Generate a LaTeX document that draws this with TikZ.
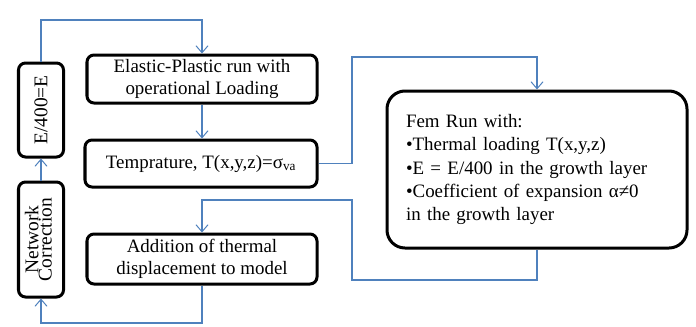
\documentclass[tikz,border=0pt]{standalone}
\usepackage{fontspec}
\setmainfont{Liberation Serif}
\usetikzlibrary{arrows.meta,positioning}
\definecolor{linkblue}{RGB}{79,129,189}

\begin{document}
\begin{tikzpicture}[x=1bp, y=-1bp, node distance=35bp,
  stepbox/.style={draw, line width=3bp, rounded corners=7bp, fill=white,
                  font=\fontsize{19}{22}\selectfont, align=center, inner sep=2bp},
  conn/.style={draw=linkblue, line width=1.1bp},
  arr/.style={conn, -{Straight Barb[length=7bp, width=12bp, line width=1bp]}}]
  \useasboundingbox (0,0) rectangle (696,326);

  \node (elastic) [stepbox, minimum width=230bp, minimum height=48bp] at (202,79)
                  {Elastic-Plastic run with\\operational Loading};
  \node (temp) [stepbox, minimum width=232bp, minimum height=47bp] at (201,163.5)
               {Temprature, T(x,y,z)=σ\textsubscript{va}};
  \node (addition) [stepbox, minimum width=230bp, minimum height=50bp] at (202,259)
                   {Addition of thermal\\displacement to model};
  \node (eload) [stepbox, minimum width=45bp, minimum height=94bp,
                 font=\fontsize{19.5}{18}\selectfont] at (41,110)
                {\rotatebox{90}{E/400=E}};
  \node (netcorr) [stepbox, minimum width=45bp, minimum height=115bp,
                   font=\fontsize{19.5}{18}\selectfont] at (41,239.5)
                  {\rotatebox{90}{\begin{tabular}{@{}c@{}}Network\\[-5bp]Correction\end{tabular}}};
  \node (fem) [stepbox, rounded corners=18bp, minimum width=300bp, minimum height=157bp,
               align=left, text width=262bp, font=\fontsize{19}{23.5}\selectfont] at (537,169.5)
              {Fem Run with:\\
               •Thermal loading T(x,y,z)\\
               •E = E/400 in the growth layer\\
               •Coefficient of expansion α≠0\\
               in the growth layer};

  \coordinate (topleft) at (41,20);
  \coordinate (upright) at (352,57);
  \coordinate (lowright) at (352,280);
  \coordinate (midright) at (352,200);
  \coordinate (botleft) at (41,323);

  \draw[arr] (eload.north) -- (topleft) -| (elastic.north);
  \draw[arr] (elastic.south) -- (temp.north -| elastic.south);
  \draw[arr] (temp.east) -| (upright) -| (fem.north);
  \draw[arr] (fem.south) |- (lowright) -- (midright) -| (addition.north);
  \draw[arr] (addition.south) |- (botleft) -- (netcorr.south);
  \draw[arr] (netcorr.north) -- (eload.south);
\end{tikzpicture}
\end{document}
